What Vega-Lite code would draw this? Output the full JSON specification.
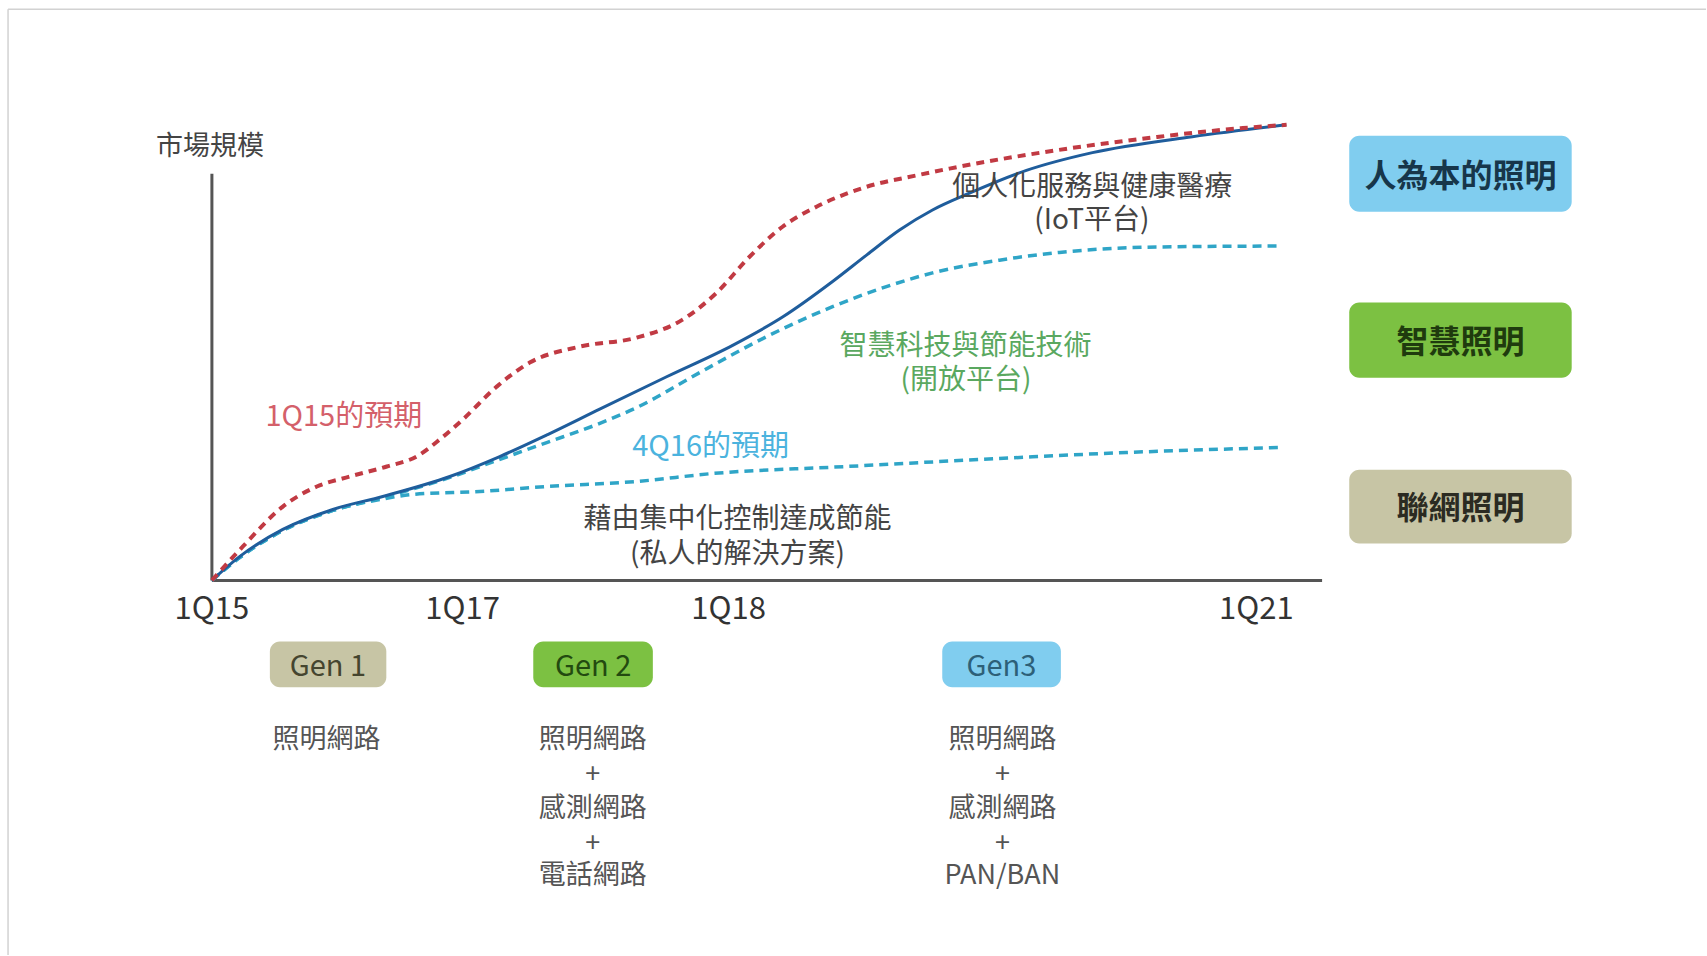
{
 "$schema": "https://vega.github.io/schema/vega-lite/v6.json",
 "width": 1707, "height": 956,
 "autosize": {"type": "fit", "contains": "padding"},
 "padding": 0,
 "background": "white",
 "config": {"view": {"stroke": null}, "font": "Noto Sans CJK TC"},
 "datasets": {
  "frame": [
   {"t": -19.52, "v": 125.4, "t2": 143.06, "v2": 125.4},
   {"t": -19.52, "v": 125.4, "t2": -19.52, "v2": -82.24}
  ],
  "axes": [
   {"t": 0, "v": 0, "t2": 0, "v2": 89.25},
   {"t": 0, "v": 0, "t2": 106.3, "v2": 0}
  ],
  "boxes": [
   {"kind": "human", "t": 108.9, "t2": 130.2, "v": 97.6, "v2": 80.9},
   {"kind": "smart", "t": 108.9, "t2": 130.2, "v": 61.0, "v2": 44.5},
   {"kind": "connected", "t": 108.9, "t2": 130.2, "v": 24.3, "v2": 8.1},
   {"kind": "connected", "t": 5.55, "t2": 16.7, "v": -13.44, "v2": -23.47},
   {"kind": "smart", "t": 30.77, "t2": 42.22, "v": -13.44, "v2": -23.47},
   {"kind": "human", "t": 69.93, "t2": 81.29, "v": -13.44, "v2": -23.47}
  ],
  "curves": [
   {"s": "red", "t": 0, "v": 0}, {"s": "red", "t": 2.97, "v": 7.46}, {"s": "red", "t": 6.79, "v": 16.2}, {"s": "red", "t": 10.05, "v": 20.6}, {"s": "red", "t": 13.2, "v": 22.8}, {"s": "red", "t": 16.75, "v": 25.0}, {"s": "red", "t": 19.6, "v": 27.2}, {"s": "red", "t": 21.8, "v": 30.9}, {"s": "red", "t": 24.02, "v": 35.31}, {"s": "red", "t": 27.27, "v": 42.54}, {"s": "red", "t": 30.43, "v": 47.81}, {"s": "red", "t": 35.22, "v": 51.32}, {"s": "red", "t": 40.67, "v": 53.29}, {"s": "red", "t": 45.07, "v": 57.24}, {"s": "red", "t": 48.33, "v": 63.16}, {"s": "red", "t": 51.48, "v": 71.05}, {"s": "red", "t": 54.64, "v": 77.63}, {"s": "red", "t": 57.89, "v": 82.02}, {"s": "red", "t": 62.68, "v": 86.4}, {"s": "red", "t": 67.46, "v": 88.9}, {"s": "red", "t": 70.62, "v": 90.4}, {"s": "red", "t": 81.1, "v": 94.5}, {"s": "red", "t": 90.7, "v": 97.4}, {"s": "red", "t": 98.7, "v": 99.3}, {"s": "red", "t": 102.9, "v": 100},
   {"s": "blue", "t": 0, "v": 0}, {"s": "blue", "t": 2.68, "v": 5.26}, {"s": "blue", "t": 6.79, "v": 11.18}, {"s": "blue", "t": 11.58, "v": 15.57}, {"s": "blue", "t": 16.36, "v": 18.42}, {"s": "blue", "t": 22.78, "v": 22.81}, {"s": "blue", "t": 27.56, "v": 27.19}, {"s": "blue", "t": 32.15, "v": 32.02}, {"s": "blue", "t": 37.13, "v": 37.6}, {"s": "blue", "t": 43.54, "v": 44.7}, {"s": "blue", "t": 49.86, "v": 51.6}, {"s": "blue", "t": 54.64, "v": 57.8}, {"s": "blue", "t": 59.43, "v": 65.6}, {"s": "blue", "t": 62.68, "v": 71.4}, {"s": "blue", "t": 65.84, "v": 76.9}, {"s": "blue", "t": 69.0, "v": 81.3}, {"s": "blue", "t": 72.54, "v": 85.0}, {"s": "blue", "t": 77.99, "v": 90.0}, {"s": "blue", "t": 84.31, "v": 93.9}, {"s": "blue", "t": 93.88, "v": 97.4}, {"s": "blue", "t": 102.87, "v": 100},
   {"s": "q416", "t": 0, "v": 0}, {"s": "q416", "t": 2.68, "v": 5.04}, {"s": "q416", "t": 6.79, "v": 10.96}, {"s": "q416", "t": 11.58, "v": 15.35}, {"s": "q416", "t": 16.36, "v": 18.2}, {"s": "q416", "t": 22.78, "v": 22.6}, {"s": "q416", "t": 27.27, "v": 26.32}, {"s": "q416", "t": 32.06, "v": 30.26}, {"s": "q416", "t": 36.84, "v": 34.2}, {"s": "q416", "t": 40.67, "v": 37.94}, {"s": "q416", "t": 46.7, "v": 45.61}, {"s": "q416", "t": 53.11, "v": 53.51}, {"s": "q416", "t": 59.43, "v": 60.09}, {"s": "q416", "t": 64.21, "v": 64.2}, {"s": "q416", "t": 69.0, "v": 67.5}, {"s": "q416", "t": 75.41, "v": 70.3}, {"s": "q416", "t": 81.15, "v": 72.0}, {"s": "q416", "t": 90.72, "v": 73.2}, {"s": "q416", "t": 102.2, "v": 73.4},
   {"s": "conn", "t": 0, "v": 0}, {"s": "conn", "t": 2.68, "v": 5.04}, {"s": "conn", "t": 6.79, "v": 10.96}, {"s": "conn", "t": 11.58, "v": 15.35}, {"s": "conn", "t": 16.08, "v": 17.76}, {"s": "conn", "t": 19.23, "v": 18.86}, {"s": "conn", "t": 25.65, "v": 19.52}, {"s": "conn", "t": 32.06, "v": 20.61}, {"s": "conn", "t": 40.67, "v": 21.71}, {"s": "conn", "t": 47.94, "v": 23.46}, {"s": "conn", "t": 60.77, "v": 25.0}, {"s": "conn", "t": 73.49, "v": 26.54}, {"s": "conn", "t": 87.56, "v": 28.07}, {"s": "conn", "t": 102.2, "v": 29.17}
  ],
  "ticks": [
   {"t": 0, "v": -5.48, "label": "1Q15"},
   {"t": 24.0, "v": -5.48, "label": "1Q17"},
   {"t": 49.47, "v": -5.48, "label": "1Q18"},
   {"t": 100, "v": -5.48, "label": "1Q21"}
  ],
  "darkNotes": [
   {"t": 50.33, "v": 13.82, "label": "藉由集中化控制達成節能"},
   {"t": 50.33, "v": 6.14, "label": "(私人的解決方案)"},
   {"t": 84.3, "v": 86.84, "label": "個人化服務與健康醫療"},
   {"t": 84.26, "v": 79.6, "label": "(IoT平台)"}
  ],
  "greenNotes": [
   {"t": 72.15, "v": 51.97, "label": "智慧科技與節能技術"},
   {"t": 72.2, "v": 44.52, "label": "(開放平台)"}
  ],
  "boxLabels": [
   {"kind": "human", "t": 119.55, "v": 89.25, "label": "人為本的照明"},
   {"kind": "smart", "t": 119.55, "v": 52.74, "label": "智慧照明"},
   {"kind": "connected", "t": 119.55, "v": 16.23, "label": "聯網照明"}
  ],
  "genLabels": [
   {"kind": "connected", "t": 11.1, "v": -18.45, "label": "Gen 1"},
   {"kind": "smart", "t": 36.5, "v": -18.45, "label": "Gen 2"},
   {"kind": "human", "t": 75.6, "v": -18.45, "label": "Gen3"}
  ],
  "networks": [
   {"t": 10.98, "v": -34.47, "label": "照明網路"},
   {"t": 36.46, "v": -34.47, "label": "照明網路"},
   {"t": 36.46, "v": -42.1, "label": "+"},
   {"t": 36.46, "v": -49.5, "label": "感測網路"},
   {"t": 36.46, "v": -57.15, "label": "+"},
   {"t": 36.46, "v": -64.3, "label": "電話網路"},
   {"t": 75.69, "v": -34.47, "label": "照明網路"},
   {"t": 75.69, "v": -42.1, "label": "+"},
   {"t": 75.69, "v": -49.5, "label": "感測網路"},
   {"t": 75.69, "v": -57.15, "label": "+"},
   {"t": 75.69, "v": -64.3, "label": "PAN/BAN"}
  ]
 },
 "encoding": {
  "x": {"field": "t", "type": "quantitative", "scale": {"domain": [-20.29, 143.06], "nice": false, "zero": false}, "axis": null},
  "y": {"field": "v", "type": "quantitative", "scale": {"domain": [-82.24, 127.41], "nice": false, "zero": false}, "axis": null}
 },
 "resolve": {"scale": {"color": "independent"}},
 "layer": [
  {"data": {"name": "frame"}, "mark": {"type": "rule", "color": "#d2d2d2", "strokeWidth": 1.5},
   "encoding": {"x2": {"field": "t2"}, "y2": {"field": "v2"}}},
  {"data": {"name": "axes"}, "mark": {"type": "rule", "color": "#555555", "strokeWidth": 3},
   "encoding": {"x2": {"field": "t2"}, "y2": {"field": "v2"}}},
  {"data": {"name": "boxes"}, "mark": {"type": "rect", "cornerRadius": 10},
   "encoding": {"x2": {"field": "t2"}, "y2": {"field": "v2"},
    "color": {"field": "kind", "type": "nominal", "legend": null, "scale": {"domain": ["human", "smart", "connected"], "range": ["#80cdef", "#7cc142", "#c7c5a5"]}}}},
  {"data": {"name": "curves"}, "transform": [{"filter": "datum.s === 'conn'"}],
   "mark": {"type": "line", "color": "#2fa5c7", "strokeWidth": 3.5, "strokeDash": [9, 6], "interpolate": "monotone"}},
  {"data": {"name": "curves"}, "transform": [{"filter": "datum.s === 'q416'"}],
   "mark": {"type": "line", "color": "#2fa5c7", "strokeWidth": 3.5, "strokeDash": [9, 6], "interpolate": "monotone"}},
  {"data": {"name": "curves"}, "transform": [{"filter": "datum.s === 'blue'"}],
   "mark": {"type": "line", "color": "#1f5d9c", "strokeWidth": 3, "interpolate": "monotone"}},
  {"data": {"name": "curves"}, "transform": [{"filter": "datum.s === 'red'"}],
   "mark": {"type": "line", "color": "#c13a43", "strokeWidth": 4, "strokeDash": [8, 6], "interpolate": "monotone"}},
  {"data": {"values": [{"t": -0.19, "v": 95.8, "label": "市場規模"}]},
   "mark": {"type": "text", "fontSize": 27, "color": "#444444", "baseline": "middle", "align": "center", "dy": 3},
   "encoding": {"text": {"field": "label"}}},
  {"data": {"name": "ticks"},
   "mark": {"type": "text", "fontSize": 31, "color": "#333333", "baseline": "middle", "align": "center", "dy": 5},
   "encoding": {"text": {"field": "label"}}},
  {"data": {"values": [{"t": 12.63, "v": 36.62, "label": "1Q15的預期"}]},
   "mark": {"type": "text", "fontSize": 29, "color": "#d4606a", "baseline": "middle", "align": "center", "dy": 3},
   "encoding": {"text": {"field": "label"}}},
  {"data": {"values": [{"t": 47.75, "v": 30.04, "label": "4Q16的預期"}]},
   "mark": {"type": "text", "fontSize": 29, "color": "#4bb3de", "baseline": "middle", "align": "center", "dy": 3},
   "encoding": {"text": {"field": "label"}}},
  {"data": {"name": "darkNotes"},
   "mark": {"type": "text", "fontSize": 28, "color": "#444444", "baseline": "middle", "align": "center", "dy": 3},
   "encoding": {"text": {"field": "label"}}},
  {"data": {"name": "greenNotes"},
   "mark": {"type": "text", "fontSize": 28, "color": "#5aa860", "baseline": "middle", "align": "center", "dy": 3},
   "encoding": {"text": {"field": "label"}}},
  {"data": {"name": "boxLabels"},
   "mark": {"type": "text", "fontSize": 32, "fontWeight": "bold", "baseline": "middle", "align": "center", "dy": 3},
   "encoding": {"text": {"field": "label"},
    "color": {"field": "kind", "type": "nominal", "legend": null, "scale": {"domain": ["human", "smart", "connected"], "range": ["#17364a", "#1f3b0e", "#2b2b22"]}}}},
  {"data": {"name": "genLabels"},
   "mark": {"type": "text", "fontSize": 29, "baseline": "middle", "align": "center", "dy": 3},
   "encoding": {"text": {"field": "label"},
    "color": {"field": "kind", "type": "nominal", "legend": null, "scale": {"domain": ["human", "smart", "connected"], "range": ["#2d6078", "#234a10", "#45452f"]}}}},
  {"data": {"name": "networks"},
   "mark": {"type": "text", "fontSize": 27, "color": "#555555", "baseline": "middle", "align": "center", "dy": 3},
   "encoding": {"text": {"field": "label"}}}
 ]
}
